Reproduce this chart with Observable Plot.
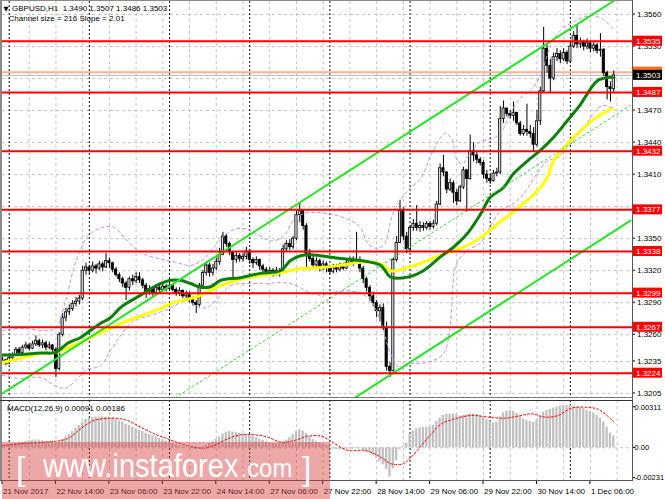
<!DOCTYPE html>
<html><head><meta charset="utf-8">
<script src="https://cdn.jsdelivr.net/npm/d3@7"></script>
<script src="https://cdn.jsdelivr.net/npm/@observablehq/plot@0.6"></script>
<style>
html,body{margin:0;padding:0;background:#fff;}
#wrap{position:relative;width:665px;height:499px;overflow:hidden;background:#fff;}
#wrap svg{position:absolute;left:0;}
</style></head><body><div id="wrap"></div>
<script>
// ---------------- DATA ----------------
const headerText = "GBPUSD,H1  1.3490 1.3507 1.3486 1.3503";
const channelText = "Channel size = 216 Slope = 2.01";
const macdText = "MACD(12,26,9) 0.00091 0.00186";
const watermarkMain = "www.instaforex";
const watermarkTail = ".com";

// hourly candles, pips above 1.3000 (open of each bar = previous close)
const firstOpen = 234;
const closes = [
236,233,238,241,246,243,248,250,247,251,
254,250,252,248,250,246,228,260,276,281,
284,289,291,294,320,323,320,324,322,326,
323,329,327,321,316,312,308,304,312,310,
314,311,306,300,303,299,304,302,305,303,
306,302,299,301,296,298,293,290,288,306,
318,325,318,322,328,335,352,345,337,330,
334,331,333,338,330,327,330,324,321,318,
320,317,320,318,340,345,342,350,372,376,
362,336,331,325,329,322,326,323,319,323,
321,325,322,327,330,328,330,322,312,304,
296,290,282,285,266,230,226,330,346,376,
352,340,360,364,360,362,360,364,361,364,
382,416,412,396,402,393,385,398,414,406,
432,428,424,421,410,406,404,411,412,462,
472,467,465,468,458,448,452,450,448,438,
460,488,528,512,500,520,523,518,524,516,
530,540,532,534,530,533,528,531,526,527,
505,492,490,503];
const highs = [
239,237,240,243,248,248,250,253,252,254,
259,256,255,254,253,251,248,262,280,285,
288,292,295,297,324,327,325,328,326,329,
328,336,332,328,323,318,314,310,314,316,
318,318,313,308,306,305,307,306,308,307,
309,308,304,304,302,301,300,296,292,308,
320,328,327,326,332,341,356,354,347,338,
337,336,336,342,340,332,333,331,326,323,
323,322,323,322,344,348,349,352,376,383,
377,364,340,334,332,331,329,328,325,326,
326,327,327,330,333,333,356,333,324,314,
306,300,292,288,289,272,234,332,352,386,
379,356,362,368,381,366,365,366,366,367,
385,420,428,413,406,404,396,400,417,415,
447,440,432,426,423,414,410,414,416,474,
479,472,470,478,468,460,456,476,456,454,
470,492,548,532,518,524,528,526,528,526,
534,544,550,538,536,537,535,534,533,542,
528,507,497,507];
const lows = [
232,231,232,236,240,241,242,246,245,246,
249,248,247,245,246,243,220,226,258,272,
278,282,286,288,292,316,316,318,317,320,
319,322,322,318,314,309,304,292,301,306,
308,308,303,294,297,296,298,299,300,300,
301,300,296,296,294,293,290,287,280,286,
304,315,314,315,320,325,334,342,334,311,
327,328,328,330,326,322,325,320,318,315,
316,314,315,314,317,338,339,340,348,365,
358,323,328,321,322,319,320,318,316,317,
318,319,320,321,325,324,326,318,308,300,
291,286,276,272,264,226,220,225,328,346,
348,336,338,357,357,356,357,358,358,359,
362,381,408,392,394,383,381,384,396,375,
405,422,420,418,406,402,401,403,408,410,
458,464,462,460,456,446,446,446,444,431,
436,456,486,505,486,498,516,514,516,513,
514,528,528,528,526,527,524,525,523,520,
502,480,478,486];

// moving averages & bands: [bar, pips above 1.3000]
const greenMA = [[0,241],[5.4,241.5],[11.4,243],[15.9,243.5],[19.5,252],[23.4,257.5],[26.3,264],[29.3,270.5],[32.3,276],[35.3,285.5],[37.4,290],[41.3,297],[44.3,303],[47.3,308],[50.3,311],[53.3,311],[56.3,308],[59.3,304.5],[62.3,305],[65.3,311],[71.3,313.5],[77.2,317.5],[83.2,320],[86.2,329.5],[89.2,334],[92.2,335],[95.2,334],[101.2,331.5],[107.2,329.5],[113.2,325],[116.2,314],[121.3,314],[126,320],[131.1,333],[135,342],[139.2,355],[143.1,373],[146.1,389],[150,398],[153,411],[157.2,423],[161.1,433],[165,445],[169.2,461],[173.1,476],[175.1,486],[178.1,498],[181.1,501],[182.6,501]];
const yellowMA = [[0,234],[5.4,238],[11.4,242.5],[15.9,243.5],[19.5,248],[23.4,253],[26.3,257.5],[29.3,262],[32.3,266],[35.3,270.5],[39.2,275],[44.3,281],[47.3,284.5],[50.3,289],[53.3,292],[56.3,294],[59.3,297],[65.3,306],[71.3,312],[77.2,315.5],[83.2,318],[89.2,322],[95.2,323],[101.2,325],[107.2,328],[113.2,326.5],[116.2,320],[121.3,323],[126,328],[133.2,337],[138,342],[143.1,351],[148.2,364],[152.1,373],[156,383],[160.2,395],[163.2,408],[165,423],[169.2,439],[173.1,451],[177,462],[182.6,472]];
const bandUpper = [[0,264],[5.4,266],[12.9,264],[15.9,266],[18.9,292],[21.9,328],[25.7,353],[29.3,360],[33.2,361],[36.8,350],[41.3,337],[47.3,331],[51.8,328],[56.3,325],[60.2,331],[63.8,344],[67.7,356],[71.3,360],[75.7,355],[80.2,348],[84.1,352],[87.1,367],[90.7,374],[98.2,373],[104.2,367],[107.2,360],[109.3,346],[111.7,341],[114.1,344],[117.1,375],[121.3,395],[125.1,406],[129,433],[132.6,449],[134.7,442],[135.9,425],[137.7,420],[140.1,431],[143.1,441],[146.1,443],[149.1,449],[152.1,468],[155.1,482],[158.1,489],[161.1,503],[164.1,531],[167,545],[171.5,554],[176.2,559],[180,555],[182.6,547]];
const bandLower = [[0,222],[5.4,219],[11.4,220],[15.9,212],[18.9,210],[21.9,217],[24.9,227],[29.3,231],[32.3,245],[35.3,259],[39.2,273],[44.3,278],[50.3,285],[54.8,292],[57.8,287],[60.8,285],[63.8,292],[68.3,306],[74.3,308],[79.3,308],[83.2,309],[86.2,308],[89.2,304],[92.2,299],[95.2,297],[98.2,299],[101.2,301],[104.2,301],[107.2,299],[110.2,292],[113.2,273],[115.3,250],[116.8,238],[119.2,228],[122.2,233],[125.1,233],[129,236],[132,242],[133.2,252],[134.1,271],[134.7,299],[135.3,320],[136.5,330],[139.2,339],[143.1,346],[146.1,362],[149.1,376],[153,383],[156,392],[160.2,412],[163.2,423],[166.2,426],[170.9,442],[174.5,456],[177.5,470],[180,475],[182.6,472]];

// regression channel (bar, price)
const channelUpper = [[0,1.3205],[188,1.35829]];
const channelMid = [[0,1.3097],[188,1.34749]];
const channelLower = [[0,1.2989],[188,1.33669]];

// horizontal levels
const levels = [1.3535,1.3487,1.3432,1.3377,1.3338,1.3299,1.3267,1.3224];
const markerLevel = 1.3506;
const bidPrice = 1.3503;
const priceTicks = [1.3560,1.3530,1.3500,1.3470,1.3440,1.3410,1.3380,1.3350,1.3320,1.3290,1.3260,1.3235,1.3205];
// tick labels that are not hidden behind the level labels
const priceTickLabels = [1.3560,1.3530,1.3470,1.3440,1.3410,1.3350,1.3320,1.3290,1.3260,1.3235,1.3205];

// time axis
const timeLabels = ["21 Nov 2017","22 Nov 14:00","23 Nov 06:00","23 Nov 22:00","24 Nov 14:00","27 Nov 06:00","27 Nov 22:00","28 Nov 14:00","29 Nov 06:00","29 Nov 22:00","30 Nov 14:00","1 Dec 06:00"];
const timeLabelBars = [0,16,32,48,64,80,96,112,128,144,160,176];
const dayStartBars = [2,26,50,74,98,122,146,170];
const gridBars = [8,16,24,32,40,48,56,64,72,80,88,96,104,112,120,128,136,144,152,160,168,176,184];

// MACD (units of 0.00001)
const macdHist = [18,18,23,28,33,38,43,48,54,59,61,59,54,48,43,41,33,43,64,84,105,125,151,171,197,217,227,232,235,235,237,235,232,227,217,207,197,181,171,158,146,135,125,112,102,92,82,71,61,51,43,33,23,15,10,5,0,-8,-15,-8,5,18,33,48,64,84,105,120,125,120,115,112,107,102,97,87,77,66,56,46,38,33,31,31,43,59,77,100,125,138,130,110,84,64,48,36,26,18,13,-8,-13,-15,-15,-10,-8,-8,-5,-8,-18,-28,-41,-59,-79,-105,-130,-166,-225,-161,-97,-13,13,36,100,130,146,153,156,158,158,171,202,227,248,255,258,258,253,243,248,253,260,260,255,248,232,217,202,191,197,235,268,281,286,278,263,243,222,209,202,197,214,243,273,286,294,304,311,319,324,324,322,319,314,306,299,288,278,266,248,227,197,158,112,91];
const macdSignal = [[0,18],[5.4,31],[12.4,43],[19.4,69],[23.4,146],[27.4,209],[33.4,227],[37.4,209],[41.4,158],[45.4,107],[49.4,69],[53.4,31],[57.4,5],[60.4,-3],[63.4,18],[67.4,69],[71.4,100],[75.4,100],[79.4,82],[83.4,43],[87.4,56],[91.4,89],[95.4,89],[98.4,49],[103.4,-20],[108.4,-20],[112.4,-59],[116.4,-123],[119.9,-123],[122.4,-71],[125.4,18],[128.4,107],[131.4,184],[135.4,222],[140.4,248],[145.4,235],[150.4,227],[154.4,243],[158.4,260],[162.4,235],[166.4,248],[170.4,304],[174.4,311],[178.4,294],[183,200]];
const macdTicks = [311, 0, -231];
const macdTickLabels = ["0.00311","0.00","-0.00231"];

// ---------------- BUILD ----------------
const P = v => 1.3 + v / 10000;
const candles = closes.map((c, i) => ({
  i, o: P(i === 0 ? firstOpen : closes[i - 1]), c: P(c), h: P(highs[i]), l: P(lows[i])
}));
const pts = arr => arr.map(([i, v]) => ({i, p: P(v)}));
const lin = arr => arr.map(([i, p]) => ({i, p}));
const hist = macdHist.map((v, i) => ({i, v}));
const sig = macdSignal.map(([i, v]) => ({i, v}));

const FONT = "Liberation Sans, Arial, sans-serif";
const X_DOMAIN = [0, 188.6];

function drawMark(fn) {
  return function(...args) {
    const sc = args.find(a => a && typeof a.x === "function" && typeof a.y === "function");
    const dim = args.find(a => a && typeof a.width === "number" && typeof a.marginRight === "number");
    const g = d3.create("svg:g");
    fn(g, sc, dim);
    return g.node();
  };
}
function label(g, x, y, txt, opts = {}) {
  g.append("text").attr("x", x).attr("y", y).text(txt)
    .attr("font-family", FONT).attr("font-size", opts.size || 8)
    .attr("fill", opts.fill || "#000").attr("text-anchor", opts.anchor || "start");
}

const wrap = document.getElementById("wrap");

const main = Plot.plot({
  width: 665, height: 398,
  marginLeft: 2, marginRight: 33, marginTop: 1, marginBottom: 0,
  x: {domain: X_DOMAIN, axis: null},
  y: {domain: [1.32003, 1.35722], axis: null},
  style: {background: "transparent", overflow: "hidden", fontFamily: FONT},
  marks: [
    Plot.ruleY(priceTicks, {stroke: "#c4c4c4", strokeDasharray: "3,3"}),
    Plot.ruleX(gridBars, {stroke: "#c4c4c4", strokeDasharray: "3,3"}),
    Plot.ruleX(dayStartBars, {stroke: "#111", strokeDasharray: "2,2"}),
    Plot.ruleY([bidPrice], {stroke: "#b8b8b8"}),
    Plot.ruleY([markerLevel], {stroke: "#f7b295", strokeWidth: 2}),
    Plot.ruleX(candles, {x: "i", y1: "l", y2: "h", stroke: "#000", strokeWidth: 1}),
    Plot.rect(candles, {x1: d => d.i - 0.33, x2: d => d.i + 0.33, y1: "o", y2: "c",
      fill: d => d.c >= d.o ? "#dcdcdc" : "#000", stroke: "#000", strokeWidth: 0.8}),
    Plot.line(pts(bandUpper), {x: "i", y: "p", stroke: "#c58be8", strokeWidth: 1, strokeDasharray: "3,3", curve: "catmull-rom"}),
    Plot.line(pts(bandLower), {x: "i", y: "p", stroke: "#c58be8", strokeWidth: 1, strokeDasharray: "3,3", curve: "catmull-rom"}),
    Plot.line(pts(yellowMA), {x: "i", y: "p", stroke: "#ffff00", strokeWidth: 3, curve: "catmull-rom"}),
    Plot.line(pts(greenMA), {x: "i", y: "p", stroke: "#0a800a", strokeWidth: 3, curve: "catmull-rom"}),
    Plot.line(lin(channelUpper), {x: "i", y: "p", stroke: "#22e622", strokeWidth: 2, clip: true}),
    Plot.line(lin(channelLower), {x: "i", y: "p", stroke: "#22e622", strokeWidth: 2, clip: true}),
    Plot.line(lin(channelMid), {x: "i", y: "p", stroke: "#33dd33", strokeWidth: 1, strokeDasharray: "2,3", clip: true}),
    Plot.ruleY(levels, {stroke: "#ff0000", strokeWidth: 2}),
    drawMark((g, s, dim) => {
      const xa = dim.width - dim.marginRight;
      for (const t of priceTicks) {
        const y = s.y(t);
        g.append("line").attr("x1", xa).attr("x2", xa + 3).attr("y1", y).attr("y2", y).attr("stroke", "#000");
      }
      for (const t of priceTickLabels) label(g, xa + 5, s.y(t) + 3, t.toFixed(4));
      const box = (v, bg, withText) => {
        const y = s.y(v);
        g.append("rect").attr("x", xa + 1).attr("y", y - 5).attr("width", 29).attr("height", 10).attr("fill", bg);
        if (withText) label(g, xa + 4, y + 3, v.toFixed(4), {fill: "#fff"});
      };
      box(markerLevel, "#ff6a1a", false);
      box(bidPrice, "#000", true);
      for (const v of levels) box(v, "#ff0000", true);
    })
  ]
});
main.style.top = "0px";
wrap.appendChild(main);

const macd = Plot.plot({
  width: 665, height: 101,
  marginLeft: 2, marginRight: 33, marginTop: 2, marginBottom: 19,
  x: {domain: X_DOMAIN, axis: null},
  y: {domain: [-250.5, 362.3], axis: null},
  style: {background: "transparent", overflow: "hidden", fontFamily: FONT},
  marks: [
    Plot.ruleY([0], {stroke: "#c4c4c4", strokeDasharray: "3,3"}),
    Plot.ruleX(gridBars, {stroke: "#c4c4c4", strokeDasharray: "3,3"}),
    Plot.ruleX(dayStartBars, {stroke: "#111", strokeDasharray: "2,2"}),
    Plot.rect(hist, {x1: d => d.i - 0.34, x2: d => d.i + 0.34, y1: 0, y2: "v", fill: "#c0c0c0"}),
    Plot.line(sig, {x: "i", y: "v", stroke: "#ff0000", strokeWidth: 1, strokeDasharray: "2,2", curve: "catmull-rom"}),
    drawMark((g, s, dim) => {
      const xa = dim.width - dim.marginRight;
      const yb = dim.height - dim.marginBottom;
      macdTicks.forEach((t, k) => {
        const y = s.y(t);
        g.append("line").attr("x1", xa).attr("x2", xa + 3).attr("y1", y).attr("y2", y).attr("stroke", "#000");
        label(g, xa + 2.5, y + 3, macdTickLabels[k], {size: 7.5});
      });
      timeLabelBars.forEach((b, k) => {
        const x = s.x(b);
        g.append("line").attr("x1", x).attr("x2", x).attr("y1", yb).attr("y2", yb + 4).attr("stroke", "#000");
        label(g, x + 1, yb + 13.5, timeLabels[k]);
      });
      label(g, 7, 13, macdText);
    })
  ]
});
macd.style.top = "398px";
wrap.appendChild(macd);

// frame, header, watermark
const ov = d3.select(wrap).append("svg").attr("width", 665).attr("height", 499)
  .style("top", "0px").style("pointer-events", "none");
const ln = (x1, y1, x2, y2, c, w = 1) => ov.append("line").attr("x1", x1).attr("y1", y1).attr("x2", x2).attr("y2", y2).attr("stroke", c).attr("stroke-width", w);
ln(1, 0, 1, 480, "#8a8a8a", 2);
ln(0, 0.5, 633, 0.5, "#8a8a8a");
ln(632.5, 0, 632.5, 481, "#555");
ln(0, 397.5, 633, 397.5, "#777");
ln(0, 400.5, 633, 400.5, "#333");
ln(0, 480.5, 633, 480.5, "#555");
ov.append("text").attr("x", 3.5).attr("y", 10.5).text("▼").attr("font-family", "DejaVu Sans").attr("font-size", 6.5).attr("fill", "#000");
ov.append("text").attr("x", 12).attr("y", 10.5).text(headerText).attr("font-family", FONT).attr("font-size", 8).attr("fill", "#000").attr("xml:space", "preserve").style("white-space", "pre");
ov.append("text").attr("x", 8.5).attr("y", 20.5).text(channelText).attr("font-family", FONT).attr("font-size", 8).attr("fill", "#000");

ov.append("rect").attr("x", 2).attr("y", 442).attr("width", 328).attr("height", 57).attr("fill", "#d63c3c").attr("opacity", 0.45);
// watermark words, horizontally condensed with a transform
const wt = (x, y, txt, size, sx) => ov.append("text")
  .attr("transform", `translate(${x},${y}) scale(${sx},1)`)
  .attr("font-family", FONT).attr("font-size", size).attr("fill", "#fff").text(txt);
wt(16, 480, "[", 34, 1);
wt(43, 477, watermarkMain, 34, 0.855);
wt(240.5, 477, watermarkTail, 26, 0.92);
wt(302, 480, "]", 34, 1);
</script></body></html>
